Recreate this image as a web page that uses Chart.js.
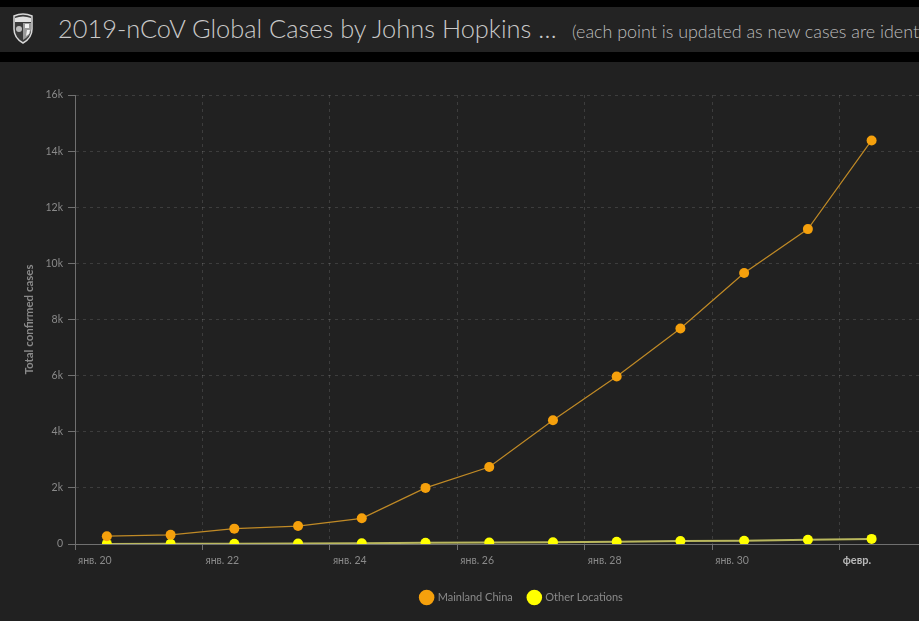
<!DOCTYPE html>
<html>
<head>
<meta charset="utf-8">
<script src="https://cdn.jsdelivr.net/npm/chart.js@4"></script>
<style>
	html, body { margin: 0; padding: 0; background: #000; width: 919px; height: 621px; overflow: hidden; }
	#header { position: absolute; left: 0; top: 7px; width: 919px; height: 45px; background: #232323; white-space: nowrap; overflow: hidden; }
	#logo { position: absolute; left: 12px; top: 6px; }
	#title { position: absolute; left: 58px; top: 6px; font-family: "Lato", sans-serif; font-weight: 300; font-size: 25.4px; color: #c9c9c9; }
	#subtitle { position: absolute; left: 572px; top: 13px; font-family: "Lato", sans-serif; font-weight: 300; font-size: 17.9px; color: #bdbdbd; }
	#panel { position: absolute; left: 0; top: 62px; width: 919px; height: 559px; background: #212121; overflow: hidden; }
</style>
</head>
<body>
<div id="header">
	<svg id="logo" width="22" height="32" viewBox="0 0 22 32">
		<path d="M2 3 Q11 -1 20 3 L20 16 Q20 25 11 30 Q2 25 2 16 Z" fill="#3a3a3a" stroke="#d8d8d8" stroke-width="1.5"/>
		<path d="M3 5 Q11 2 19 5 L19 9 L3 9 Z" fill="#e0e0e0"/>
		<path d="M11 10 L19 10 L19 17 Q18 23 11 27 Z" fill="#9a9a9a"/>
		<path d="M13 11 L17 11 L17 15 L13 15 Z M15 17 L18 17 L17 21 L14 23 Z" fill="#f0f0f0"/>
		<circle cx="7" cy="16" r="3" fill="#bdbdbd"/>
	</svg>
	<span id="title">2019-nCoV Global Cases by Johns Hopkins …</span>
	<span id="subtitle">(each point is updated as new cases are identified)</span>
</div>
<div id="panel">
	<canvas id="myChart" width="1042" height="559"></canvas>
</div>
<script>
// x : день января (32 = 1 февр.), точки обновлялись около полудня
var _days = [20.5, 21.5, 22.5, 23.5, 24.5, 25.5, 26.5, 27.5, 28.5, 29.5, 30.5, 31.5, 32.5];
var _chinaData = [278, 326, 547, 639, 916, 2000, 2744, 4409, 5970, 7678, 9658, 11221, 14380];
var _otherData = [4, 6, 8, 14, 29, 41, 56, 64, 78, 105, 118, 153, 182];
var _seriesNames = ["Mainland China", "Other Locations"];
var _xTickLabels = { 20: "янв. 20", 22: "янв. 22", 24: "янв. 24", 26: "янв. 26", 28: "янв. 28", 30: "янв. 30", 32: "февр.", 34: "февр. 3" };
var _yTicks = [0, 2000, 4000, 6000, 8000, 10000, 12000, 14000, 16000];

function _toPoints(days, values) {
	var points = new Array();
	days.forEach(function(d, i) {
		points.push({ x: d, y: values[i] });
	});
	return points;
}

var gridColor = "rgba(255,255,255,0.13)";
var axisColor = "#707070";
var labelColor = "#8a8a8a";
var fontFamily = "'Lato', 'Open Sans', sans-serif";

var _datasets = [
	{
		label: _seriesNames[0],
		data: _toPoints(_days, _chinaData),
		borderColor: "#c08a26",
		backgroundColor: "#f5a00c",
		borderWidth: 1.2,
		pointRadius: 5,
		pointBorderWidth: 0,
		pointBackgroundColor: "#f5a00c",
		tension: 0
	},
	{
		label: _seriesNames[1],
		data: _toPoints(_days, _otherData),
		borderColor: "rgba(225,222,110,0.8)",
		backgroundColor: "#ffff00",
		borderWidth: 2,
		pointRadius: 5,
		pointBorderWidth: 0,
		pointBackgroundColor: "#ffff00",
		tension: 0
	}
];

var _config = {
	type: "line",
	data: { datasets: _datasets },
	options: {
		responsive: false,
		animation: false,
		layout: { padding: { top: 33, right: 20, left: 22, bottom: 8 } },
		plugins: {
			tooltip: { enabled: false },
			legend: {
				position: "bottom",
				labels: {
					usePointStyle: true,
					pointStyle: "circle",
					boxWidth: 15,
					boxHeight: 15,
					color: labelColor,
					padding: 16,
					font: { family: fontFamily, size: 11 }
				}
			}
		},
		scales: {
			x: {
				type: "linear",
				min: 20,
				max: 34.86,
				afterBuildTicks: function(scale) {
					scale.ticks = Object.keys(_xTickLabels).map(function(k) { return { value: Number(k) }; });
				},
				afterFit: function(scale) { scale.height = 32; },
				border: { color: axisColor, width: 1, dash: [3, 4] },
				grid: {
					color: gridColor,
					tickBorderDash: [],
					tickColor: axisColor,
					tickLength: 6,
					drawTicks: true
				},
				ticks: {
					align: "start",
					labelOffset: 3,
					maxRotation: 0,
					autoSkip: false,
					padding: 4,
					color: function(ctx) { return ctx.tick && ctx.tick.value === 32 ? "#b8b8b8" : labelColor; },
					font: function(ctx) {
						var bold = ctx.tick && ctx.tick.value === 32;
						return { family: fontFamily, size: bold ? 11 : 10.5, weight: bold ? "bold" : "normal" };
					},
					callback: function(value) { return _xTickLabels[value] || ""; }
				}
			},
			y: {
				min: 0,
				max: 16000,
				afterBuildTicks: function(scale) {
					scale.ticks = _yTicks.map(function(v) { return { value: v }; });
				},
				afterFit: function(scale) { scale.width = 53; },
				border: { color: axisColor, width: 1, dash: [3, 4] },
				grid: {
					color: function(ctx) { return ctx.tick && ctx.tick.value === 0 ? "rgba(0,0,0,0)" : gridColor; },
					tickBorderDash: [],
					tickColor: axisColor,
					tickLength: 7
				},
				title: {
					display: true,
					text: "Total confirmed cases",
					color: labelColor,
					padding: 0,
					font: { family: fontFamily, size: 11.5, weight: "bold" }
				},
				ticks: {
					color: labelColor,
					padding: 5,
					font: { family: fontFamily, size: 10.5 },
					callback: function(value) { return value === 0 ? "0" : (value / 1000) + "k"; }
				}
			}
		}
	}
};

var myChart = new Chart(document.getElementById("myChart"), _config);
</script>
</body>
</html>
